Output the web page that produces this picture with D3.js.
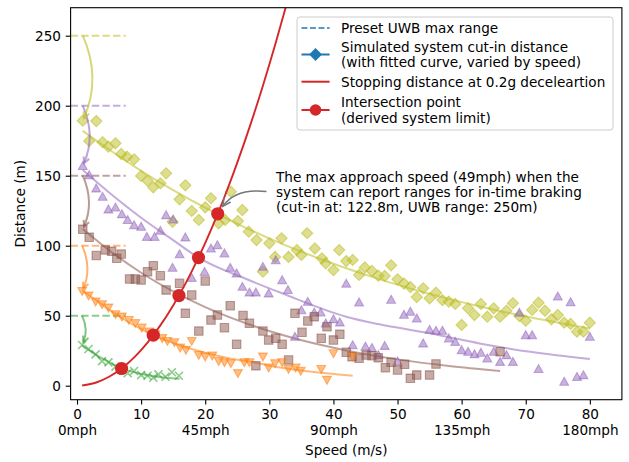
<!DOCTYPE html>
<html><head><meta charset="utf-8">
<script src="https://cdn.jsdelivr.net/npm/d3@7"></script>
<style>
body{margin:0;background:#fff}
svg{display:block}
text{font-family:"DejaVu Sans",sans-serif;fill:#000}
</style></head>
<body><svg id="chart" width="629" height="462"></svg>
<script>
// ---------------- data ----------------
const xDomain = [-1, 85];
const yDomain = [-10, 270];
const xTicks = [0,10,20,30,40,50,60,70,80];
const xTickMph = {0:"0mph",20:"45mph",40:"90mph",60:"135mph",80:"180mph"};
const yTicks = [0,50,100,150,200,250];

const presetRanges = [50,100,150,200,250];
const seriesColors = ["#2ca02c","#ff7f0e","#8c564b","#9467bd","#bcbd22"];
const seriesShapes = ["x","v","s","^","D"];

const greenPts = [[0.8,29.1],[1.8,26.2],[2.9,22.4],[3.9,17.6],[4.9,16.7],[6,13.6],[7,12.2],[7.9,8.9],[8.9,10.5],[10,7.6],[11,7.1],[11.9,5.7],[12.7,8.1],[13.8,6.4],[14.8,9.6],[15.9,7.1]];
const orangePts = [[0.8,67.6],[1.8,64.3],[2.9,60],[3.9,58.1],[4.9,55.7],[6,51],[7,49.3],[8.1,46.9],[9.1,44.6],[10.1,41.4],[11.2,38.6],[12.2,36.7],[13.3,33.9],[14.1,31.9],[15.2,31],[16.1,27.1],[17,25.5],[17.9,31.9],[19,21.9],[20,20.7],[21.1,21.4],[22.1,17.6],[23,16.7],[24,16],[25.1,8.9],[26.1,16.7],[26.9,16.7],[29,20.7],[29.9,12.9],[30.9,16],[32,16.7],[33,11.9],[34.1,12.9],[34.9,10.5],[38.1,11.9],[39,4.1],[40,23.1],[43,20.7]];
const brownPts = [[0.9,111.7],[1.9,106],[3,93],[4.4,97],[5.4,96],[6.2,91],[6.9,94],[8.2,76.2],[9.1,76.2],[10,75.5],[11,81.4],[11.9,85.7],[13,78.6],[13.9,68.4],[16,73.1],[16.9,51.7],[17.9,64.8],[19,39],[20,74.8],[20.9,46.9],[21.9,50.5],[23,41.4],[23.9,57.1],[24.9,29.6],[25.9,50.2],[26.9,44.6],[27.9,14.3],[29,39],[29.9,32.6],[31,33.9],[32,29.6],[33,18.4],[34,51.7],[35.1,38.1],[36,46.2],[37,49.3],[38.1,33.9],[39,42.1],[40,32.6],[41,36.7],[42,23.9],[42.9,20.7],[44,19.6],[45.1,21.9],[46,21.4],[47,20],[48.1,12.9],[49,16.7],[50,11.2],[51.1,15.3],[52,5.3],[53,7.6],[55,7.6],[56,15.5],[66,24.3]];
const purplePts = [[0.9,157],[1.9,150.5],[3,141],[4,135],[4.9,126],[6,127.4],[7,122.6],[7.9,118.4],[8.9,114.8],[10,113.6],[10.9,106.4],[12.1,106.4],[13,110.7],[13.9,121.9],[15,118.9],[14.9,84.3],[16,94],[16.9,106],[17.9,77.1],[19.9,81.4],[20.9,98.1],[21.9,100.5],[23,94.6],[23.9,84.3],[24.9,80.3],[25.8,70.7],[26.9,66.7],[27.9,66.7],[29,85],[29.9,66],[31,89.8],[32,75.5],[32.9,68.4],[34,35],[35,54],[36,60],[37,52.4],[38,52.4],[38.8,44.6],[40,47.6],[41,45.3],[42,73],[43,29],[44,59.6],[45,28],[46,27],[47,22],[48,28.5],[49,61.5],[50,17.4],[51,50.8],[52,52.9],[53,48.1],[54,30.3],[55,40],[56,39.3],[57,39.3],[58,33.9],[59,31.4],[60,25.5],[61,24.3],[62,22.6],[63,23.6],[64,19.6],[65,24.3],[66,17.1],[67,21.9],[68,17.1],[69,52.2],[70,36.2],[71,36.2],[72,12],[75,63.8],[76,2.9],[77,59.8],[78,6.4],[79,7.6],[80,35]];
const olivePts = [[0.9,189.3],[1.9,174.8],[3,189],[4,173.9],[4.9,170.7],[6,173.1],[6.9,165.5],[7.8,163.6],[8.9,161.7],[10,149.8],[11,146.4],[11.9,141.7],[13,144.6],[13.9,151.7],[14.9,117.1],[16,133.1],[16.9,143.1],[17.9,124.8],[19,118.4],[20,127.4],[20.9,133.9],[22.1,116],[23.1,118.4],[24,138.6],[25.1,117.6],[25.8,125.5],[26.8,110],[28,104],[29,81.4],[30,101.7],[30.9,92],[31.9,105.3],[33,92],[34.3,96.9],[35,93.4],[35.9,108.9],[37.1,98],[38.2,91],[38.8,87.4],[40,82.6],[40.9,96.9],[42,89],[43,89.8],[44,79.1],[44.9,84.5],[46,82],[47,78.6],[48,78.4],[49,86],[50,76],[51,73],[52,70.5],[53,63.3],[54,69.6],[55,62.4],[56,66.4],[57,61.2],[58,60],[59,58.4],[60,43.4],[61,55.3],[62,50.5],[63,58.4],[64,49.3],[65,55.3],[66,49.3],[67,53.6],[68,58.9],[69,49.8],[70,46.4],[71,54.1],[72,59.3],[73,53.6],[74,47.4],[75,50.5],[76,45],[77,44.1],[78,38.6],[79,38.6],[80,45]];

const greenFit = [[0.8,28.6],[2,25],[3,22],[4,19.3],[5,16.8],[6,14.5],[7,12.4],[8,10.8],[9,9.5],[10,8.4],[12,6.8],[14,5.7],[16,4.9]];
const orangeFit = [[0.8,68],[3,61],[5,54.3],[8,45.5],[10,40.5],[11.9,36.2],[15,30.5],[20,23.5],[25,18.5],[27,17.2],[30,14.3],[36,10.3],[43,7.1]];
const brownFit = [[0.9,112],[5,96.8],[10,80.7],[15,67.3],[20,56.1],[27,43.5],[34,33.7],[42,25.2],[50,18.8],[58,14.1],[66,10.5]];
const purpleFit = [[0.9,154],[5,138],[10,120],[15,104],[18.95,91.5],[26.4,76.2],[32,66],[42,49.3],[47,44],[55,37.4],[63,30],[71,24],[80,19]];
const oliveFit = [[0.9,182],[5,168.7],[10,153.5],[15,139.7],[20,127.1],[26,113.5],[32,101.3],[40,87.1],[47,76.3],[55,65.6],[63,56.4],[71,48.5],[80,40.9]];

const stopSpeed = [0.8,3,5,7,9,11,13,15,17,19,21,23,25,27,29,31,33,35];
const stopDist  = [0.16,2.29,6.37,12.49,20.64,30.84,43.07,57.34,73.65,92.0,112.4,134.8,159.3,185.8,214.3,244.9,277.5,312.2];

const interSpeed = [6.95,11.9,15.9,18.95,21.95];
const interDist  = [12.3,36.1,64.4,91.5,122.8];

const annotationLines = ["The max approach speed (49mph) when the","system can report ranges for in-time braking","(cut-in at: 122.8m, UWB range: 250m)"];
const legendLabels = [["Preset UWB max range"],["Simulated system cut-in distance","(with fitted curve, varied by speed)"],["Stopping distance at 0.2g deceleartion"],["Intersection point","(derived system limit)"]];

// ---------------- drawing ----------------
const FS = 13.6;
const svg = d3.select("#chart");
const plotL = 70.6, plotR = 621.9, plotT = 7.7, plotB = 399.7;
const x = d3.scaleLinear().domain(xDomain).range([plotL, plotR]);
const y = d3.scaleLinear().domain(yDomain).range([plotB, plotT]);

svg.append("defs").append("clipPath").attr("id","clip")
  .append("rect").attr("x",plotL).attr("y",plotT).attr("width",plotR-plotL).attr("height",plotB-plotT);

const series = [
  {pts:greenPts, fit:greenFit},
  {pts:orangePts, fit:orangeFit},
  {pts:brownPts, fit:brownFit},
  {pts:purplePts, fit:purpleFit},
  {pts:olivePts, fit:oliveFit}
].map((s,i)=>Object.assign(s,{color:seriesColors[i], shape:seriesShapes[i], preset:presetRanges[i]}));

function markerPath(shape){
  switch(shape){
    case "D": {const r=5.6; return `M0,${-r}L${r},0L0,${r}L${-r},0Z`;}
    case "s": {const h=4.2; return `M${-h},${-h}H${h}V${h}H${-h}Z`;}
    case "^": return "M0,-4.3L4.4,3.6L-4.4,3.6Z";
    case "v": return "M0,4.3L4.4,-3.6L-4.4,-3.6Z";
    case "x": return "M-4,-4L4,4M-4,4L4,-4";
  }
}

const plot = svg.append("g").attr("clip-path","url(#clip)");

// preset dashed lines (10% of axes width)
series.forEach(s=>{
  plot.append("line")
    .attr("x1",plotL).attr("x2",plotL+0.1*(plotR-plotL))
    .attr("y1",y(s.preset)).attr("y2",y(s.preset))
    .attr("stroke",s.color).attr("stroke-opacity",0.55)
    .attr("stroke-width",2).attr("stroke-dasharray","7.4,3.2");
});

// curved arrow helper
function curvedArrow(g, S, E, rad, color, opacity, width, shrinkB, headLen, headW){
  const mx=(S[0]+E[0])/2, my=(S[1]+E[1])/2;
  const dx=E[0]-S[0], dy=E[1]-S[1];
  const C=[mx+rad*dy, my-rad*dx];
  const tx=E[0]-C[0], ty=E[1]-C[1], L=Math.hypot(tx,ty);
  const ux=tx/L, uy=ty/L;
  const E2=[E[0]-ux*shrinkB, E[1]-uy*shrinkB];
  g.append("path").attr("d",`M${S[0]},${S[1]}Q${C[0]},${C[1]} ${E2[0]},${E2[1]}`)
    .attr("fill","none").attr("stroke",color).attr("stroke-opacity",opacity).attr("stroke-width",width);
  const bx=E2[0]-ux*headLen, by=E2[1]-uy*headLen;
  const px=-uy, py=ux;
  g.append("path").attr("d",`M${bx+px*headW},${by+py*headW}L${E2[0]},${E2[1]}L${bx-px*headW},${by-py*headW}`)
    .attr("fill","none").attr("stroke",color).attr("stroke-opacity",opacity).attr("stroke-width",width)
    .attr("stroke-linejoin","miter");
}

// fitted curves
const line = d3.line().x(d=>x(d[0])).y(d=>y(d[1])).curve(d3.curveMonotoneX);
series.forEach(s=>{
  plot.append("path").datum(s.fit).attr("d",line)
    .attr("fill","none").attr("stroke",s.color).attr("stroke-opacity",0.55).attr("stroke-width",2);
});

// markers
series.slice().reverse().forEach(s=>{
  plot.append("g").selectAll("path").data(s.pts).join("path")
    .attr("transform",d=>`translate(${x(d[0])},${y(d[1])})`)
    .attr("d",markerPath(s.shape))
    .attr("fill",s.shape==="x"?"none":s.color).attr("fill-opacity",0.5)
    .attr("stroke",s.color).attr("stroke-opacity",0.55)
    .attr("stroke-width",s.shape==="x"?1.6:1.1);
});

// arrows from preset range to first cut-in point
series.forEach(s=>{
  const p=s.pts[0];
  curvedArrow(plot,[x(p[0]),y(s.preset)],[x(p[0]),y(p[1])],0.22,s.color,0.6,2,3,6,3);
});

// stopping distance curve
const stopData = stopSpeed.map((v,i)=>[v,stopDist[i]]);
plot.append("path").datum(stopData)
  .attr("d",d3.line().x(d=>x(d[0])).y(d=>y(d[1])).curve(d3.curveCatmullRom))
  .attr("fill","none").attr("stroke","#d62728").attr("stroke-width",1.9);

// intersection points
plot.append("g").selectAll("circle").data(interSpeed.map((v,i)=>[v,interDist[i]])).join("circle")
  .attr("cx",d=>x(d[0])).attr("cy",d=>y(d[1])).attr("r",6.6).attr("fill","#d62728");

// axes
const xAxis = d3.axisBottom(x).tickValues(xTicks).tickSize(4.9).tickPadding(4.7).tickFormat(d3.format("d"));
const gx = svg.append("g").attr("transform",`translate(0,${plotB})`).call(xAxis);
gx.select(".domain").remove();
gx.selectAll(".tick text").each(function(d){
  if(xTickMph[d]!==undefined){
    d3.select(this).append("tspan").attr("x",0).attr("dy","1.2em").text(xTickMph[d]);
  }
});
const yAxis = d3.axisLeft(y).tickValues(yTicks).tickSize(4.9).tickPadding(4.7).tickFormat(d3.format("d"));
const gy = svg.append("g").attr("transform",`translate(${plotL},0)`).call(yAxis);
gy.select(".domain").remove();
svg.selectAll(".tick text").attr("font-size",FS).attr("font-family","DejaVu Sans").attr("fill","#000");
svg.selectAll(".tick line").attr("stroke","#000").attr("stroke-width",1.1);

svg.append("rect").attr("x",plotL).attr("y",plotT).attr("width",plotR-plotL).attr("height",plotB-plotT)
  .attr("fill","none").attr("stroke","#000").attr("stroke-width",1.1);

svg.append("text").attr("x",(plotL+plotR)/2).attr("y",455).attr("text-anchor","middle")
  .attr("font-size",FS).text("Speed (m/s)");
svg.append("text").attr("transform",`translate(24.5,${(plotT+plotB)/2}) rotate(-90)`).attr("text-anchor","middle")
  .attr("font-size",FS).text("Distance (m)");

// annotation
const annG = svg.append("g");
annotationLines.forEach((t,i)=>{
  annG.append("text").attr("x",276).attr("y",176.7+i*15.3).attr("dy","0.36em")
    .attr("font-size",FS).attr("fill","#222").text(t);
});
curvedArrow(svg,[266.5,191.5],[x(interSpeed[4]),y(interDist[4])],-0.3,"#777",1,1.6,9,8,4);

// legend
const lg = svg.append("g");
lg.append("rect").attr("x",297).attr("y",17).attr("width",316).attr("height",113).attr("rx",3)
  .attr("fill","#fff").attr("fill-opacity",0.8).attr("stroke","#ccc").attr("stroke-width",1);
const legY = [28,54.5,81.7,110];
const hx1=301.5, hx2=329.6, hmx=(hx1+hx2)/2, tx0=341;
lg.append("line").attr("x1",hx1).attr("x2",hx2).attr("y1",legY[0]).attr("y2",legY[0])
  .attr("stroke","#1f77b4").attr("stroke-width",1.6).attr("stroke-dasharray","5.9,2.6");
lg.append("line").attr("x1",hx1).attr("x2",hx2).attr("y1",legY[1]).attr("y2",legY[1])
  .attr("stroke","#1f77b4").attr("stroke-width",2);
lg.append("path").attr("d","M0,-6.4L6.4,0L0,6.4L-6.4,0Z").attr("transform",`translate(${hmx},${legY[1]})`).attr("fill","#1f77b4");
lg.append("line").attr("x1",hx1).attr("x2",hx2).attr("y1",legY[2]).attr("y2",legY[2])
  .attr("stroke","#d62728").attr("stroke-width",2);
lg.append("line").attr("x1",hx1).attr("x2",hx2).attr("y1",legY[3]).attr("y2",legY[3])
  .attr("stroke","#d62728").attr("stroke-width",2);
lg.append("circle").attr("cx",hmx).attr("cy",legY[3]).attr("r",5.8).attr("fill","#d62728");
legendLabels.forEach((lines,i)=>{
  const n=lines.length;
  lines.forEach((t,j)=>{
    lg.append("text").attr("x",tx0).attr("y",legY[i]+(j-(n-1)/2)*15.6).attr("dy","0.36em")
      .attr("font-size",FS).text(t);
  });
});
</script></body></html>
